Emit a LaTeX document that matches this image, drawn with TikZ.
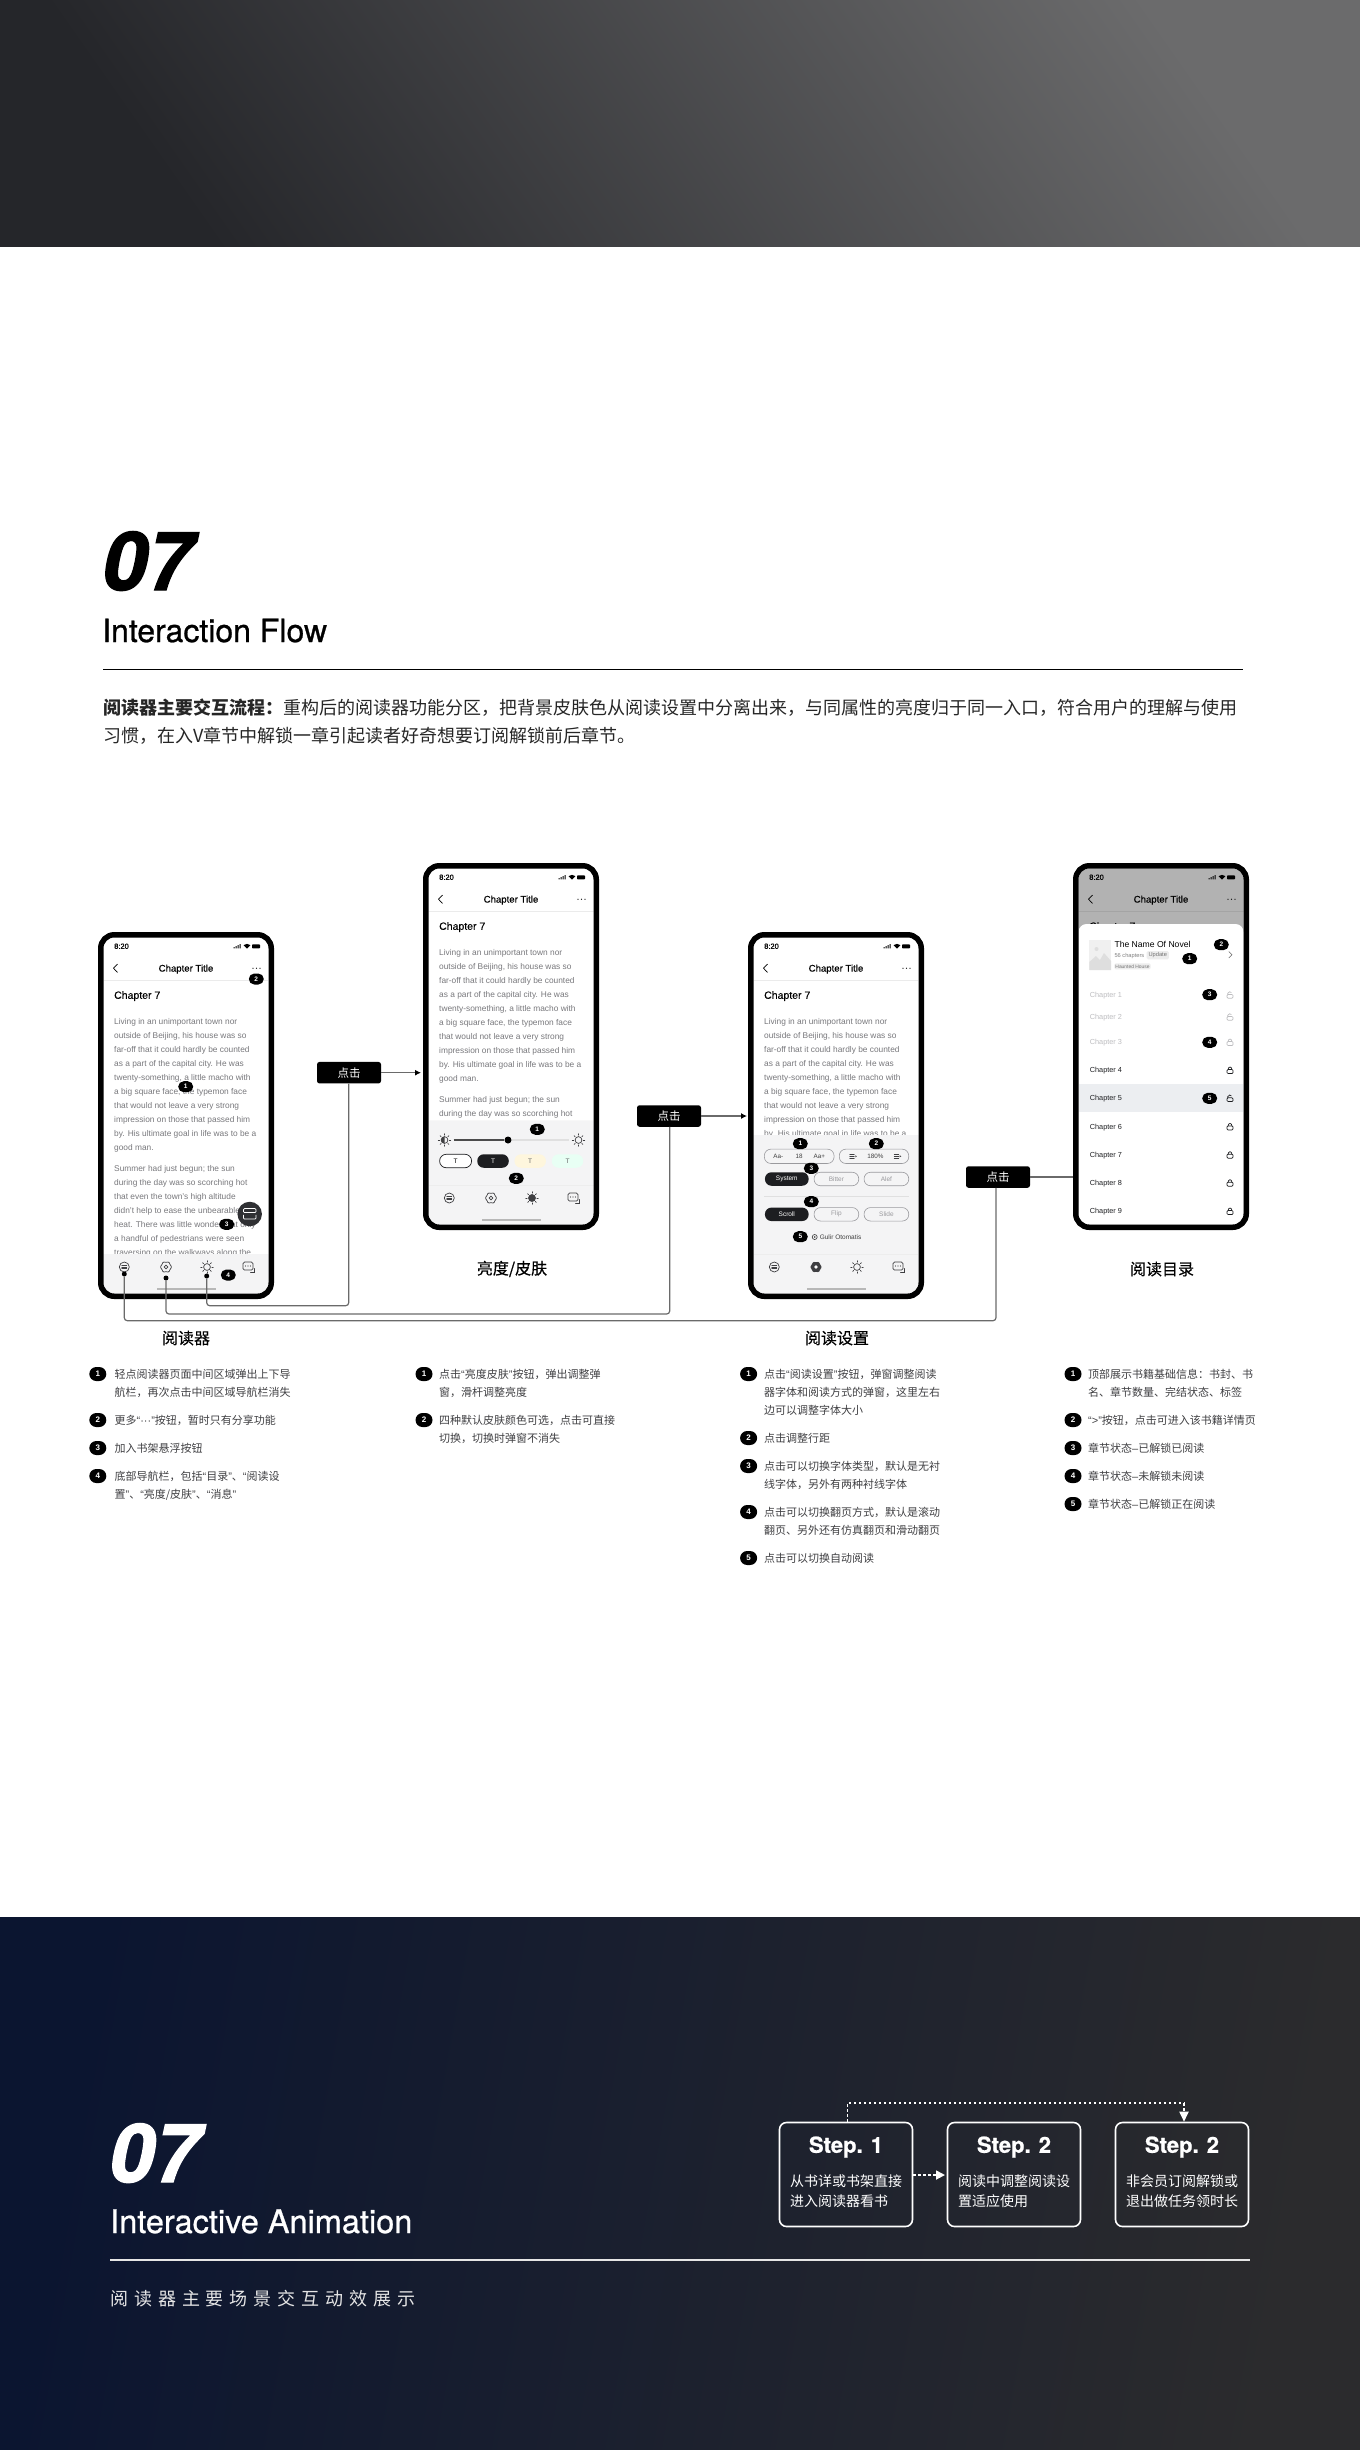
\documentclass[tikz,border=0pt]{standalone}
\usepackage{fontspec}
\setmainfont{Liberation Sans}
\newfontfamily\cjk{Noto Sans CJK SC}
\newfontfamily\cjkmed[FakeBold=.4]{Noto Sans CJK SC}
\newfontfamily\cjkwide[LetterSpace=33]{Noto Sans CJK SC}
\newfontfamily\heros{TeX Gyre Heros}
\newfontfamily\herosmed[FakeBold=.8]{TeX Gyre Heros}
\newfontfamily\herosblack[FakeBold=1.6]{TeX Gyre Heros Bold Italic}
\newfontfamily\uimed[FakeBold=.4]{Liberation Sans}
\usetikzlibrary{positioning,arrows.meta}
\newcommand{\fs}[1]{\fontsize{#1}{#1}\selectfont}
\newcommand{\qo}{{\normalfont “}}
\newcommand{\qc}{{\normalfont ”}}

\definecolor{bodygrey}{HTML}{77777B}
\definecolor{listgrey}{HTML}{3F3F42}
\definecolor{linegrey}{HTML}{6A6A6A}
\definecolor{panelgrey}{HTML}{F4F4F5}
\definecolor{pillgrey}{HTML}{9A9A9E}
\definecolor{inkdark}{HTML}{1D1E21}
\definecolor{fadegrey}{HTML}{BDBDC0}
\definecolor{rowgrey}{HTML}{ECEEF1}
\definecolor{topleft}{HTML}{25262A}
\definecolor{topmid}{HTML}{2D2E32}
\definecolor{topright}{HTML}{6B6B6C}
\definecolor{navyleft}{HTML}{0B1530}
\definecolor{navymid}{HTML}{0E1730}
\definecolor{navyright}{HTML}{2B2B2D}

\tikzset{
	phonebox/.style={draw=black,line width=5.5pt,rounded corners=13.5pt},
	badge/.style={fill=black,text=white,rounded corners=5.5pt,minimum width=15pt,minimum height=11pt,inner sep=0pt,font=\bfseries\fs{6.5}},
	listbadge/.style={fill=black,text=white,rounded corners=7pt,minimum width=17pt,minimum height=14pt,inner sep=0pt,font=\bfseries\fs{8}},
	listtext/.style={anchor=west,inner sep=0pt,text=listgrey,text height=9.7pt,text depth=1.3pt,font=\cjk\fs{11}},
	headtext/.style={inner sep=0pt,text=black,font=\cjkmed\fs{16}},
	bodyline/.style={anchor=base west,inner sep=0pt,text=bodygrey,font=\fs{8.35}},
	clickbox/.style={fill=black,text=white,rounded corners=2.5pt,minimum width=64pt,minimum height=21.5pt,inner sep=0pt,font=\cjk\fs{11.5}},
	flowline/.style={draw=linegrey,line width=1.2pt,rounded corners=3pt},
	flowtip/.style={-{Latex[length=6pt,width=6pt,fill=black,black]}},
	flowdot/.style={circle,fill=black,minimum size=5pt,inner sep=0pt},
	pillbox/.style={draw=pillgrey,line width=.6pt,rounded corners=6.5pt,minimum height=13.5pt,inner sep=0pt,text=pillgrey,font=\fs{6.5}},
	pilldark/.style={fill=inkdark,rounded corners=6.5pt,minimum height=13.5pt,inner sep=0pt,text=white,font=\fs{6.5}},
	chapline/.style={anchor=base west,inner sep=0pt,font=\fs{7.3}},
	stepbox/.style={draw=white,line width=1.6pt,rounded corners=7pt,minimum width=133pt,minimum height=104pt,inner sep=0pt},
	steptitle/.style={inner sep=0pt,text=white,font=\herosmed\bfseries\fs{22}},
	steptext/.style={inner sep=0pt,text=white,font=\cjk\fs{14}},
	stepdash/.style={draw=white,line width=1.8pt,dash pattern=on 2.5pt off 2.5pt},
	smallline/.style={line width=.7pt,line cap=round},
	listicon/.pic={
		\draw[smallline] (0,0) circle[radius=5];
		\draw[smallline] (-2.5,-1.8) -- (2.5,-1.8) (-2.5,0) -- (2.5,0) (-2.5,1.8) -- (2.5,1.8);
	},
	gearicon/.pic={
		\draw[smallline,rounded corners=1pt] (0:6)--(30:4.6)--(60:6)--(90:4.6)--(120:6)--(150:4.6)--(180:6)--(210:4.6)--(240:6)--(270:4.6)--(300:6)--(330:4.6)--cycle;
		\draw[smallline] (0,0) circle[radius=1.9];
	},
	gearfull/.pic={
		\fill[rounded corners=1pt] (0:6)--(30:4.8)--(60:6)--(90:4.8)--(120:6)--(150:4.8)--(180:6)--(210:4.8)--(240:6)--(270:4.8)--(300:6)--(330:4.8)--cycle;
		\fill[white] (0,0) circle[radius=1.9];
	},
	sunicon/.pic={
		\draw[smallline] (0,0) circle[radius=3.4];
		\foreach \a in {0,45,...,315} \draw[smallline] (\a:4.9) -- (\a:6.2);
	},
	sunfull/.pic={
		\fill (0,0) circle[radius=3.9];
		\foreach \a in {0,45,...,315} \draw[smallline] (\a:4.9) -- (\a:6.2);
	},
	msgicon/.pic={
		\draw[smallline,rounded corners=1.5pt] (-5.5,-5) rectangle (4.5,3);
		\draw[smallline] (2,5) -- (5.5,5) -- (5.5,1.5);
		\fill (-3,-1) circle[radius=.55] (-.5,-1) circle[radius=.55] (2,-1) circle[radius=.55];
	},
	lockshut/.pic={
		\draw[smallline,rounded corners=1pt] (-3,-.8) rectangle (3,3.2);
		\draw[smallline] (-1.9,-.8) arc[start angle=180,end angle=360,x radius=1.9,y radius=2.5];
	},
	lockopen/.pic={
		\draw[smallline,rounded corners=1pt] (-3,-.5) rectangle (3,3.2);
		\draw[smallline] (-2.3,-.5) -- (-2.3,-1.6) arc[start angle=180,end angle=330,x radius=1.9,y radius=1.7];
	},
	spacing/.pic={
		\draw[smallline] (-3.5,-2.2) -- (1,-2.2) (-3.5,0) -- (1,0) (-3.5,2.2) -- (1,2.2);
		\fill (2,-1) -- (3.6,0) -- (2,1) -- cycle;
	},
}

\newcommand{\bodyone}{{Living in an unimportant town nor},{outside of Beijing, his house was so},{far-off that it could hardly be counted},{as a part of the capital city. He was},{twenty-something, a little macho with},{a big square face, the typemon face},{that would not leave a very strong},{impression on those that passed him},{by. His ultimate goal in life was to be a},{good man.}}
\newcommand{\bodytwo}{{Summer had just begun; the sun},{during the day was so scorching hot},{that even the town's high altitude},{didn't help to ease the unbearable},{heat. There was little wonder that only},{a handful of pedestrians were seen},{traversing on the walkways along the}}

\newcommand{\phonehead}{
	\node[anchor=base west,inner sep=0pt,font=\uimed\fs{7.5}] (time) at (16,16.8) {8:20};
	\fill (135.5,16.4) rectangle (136.5,15.2) (137.5,16.4) rectangle (138.5,14.2) (139.5,16.4) rectangle (140.5,13) (141.5,16.4) rectangle (142.5,12);
	\fill (149,16.6) -- (145.6,13.2) arc[start angle=225,end angle=315,radius=4.8] -- cycle;
	\fill[rounded corners=.8pt] (154,12.4) rectangle (162,16.4);
	\node[anchor=base,inner sep=0pt,font=\uimed\fs{9.6}] (title) at (88,39.6) {Chapter Title};
	\draw[line width=.7pt] (19.5,32) -- (15.5,36.2) -- (19.5,40.4);
	\fill (155,36.3) circle[radius=.6] (158.5,36.3) circle[radius=.6] (162,36.3) circle[radius=.6];
	\draw[line width=.5pt,draw=black!8] (5.5,48) -- (170.5,48);
	\node[anchor=base west,inner sep=0pt,font=\uimed\fs{10.5}] (chapter) at (16,66.8) {Chapter 7};
}
\newcommand{\phonebody}[2]{
	\foreach \txt [count=\i from 0] in \bodyone {
		\ifnum\i<#1 \node[bodyline] (one\i) at (16,{92+14*\i}) {\txt}; \fi
	}
	\foreach \txt [count=\i from 0] in \bodytwo {
		\ifnum\i<#2 \node[bodyline] (two\i) at (16,{239.7+14*\i}) {\txt}; \fi
	}
}
\newcommand{\tabbar}[2]{
	\pic[color=listgrey] at (26.3,335) {listicon};
	\pic[color=listgrey] at (68,335) {#1};
	\pic[color=listgrey] at (109,335) {#2};
	\pic[color=listgrey] at (150.5,335) {msgicon};
	\draw[line width=1.5pt,draw=black!28] (59,357) -- (118,357);
}

\begin{document}
\begin{tikzpicture}[x=1pt,y=-1pt]
\useasboundingbox (0,0) rectangle (1360,2450);

\shade[shading=axis,left color=topleft,middle color=topmid,right color=topright,shading angle=125] (0,0) rectangle (1360,246);
\shade[shading=axis,left color=navyleft,middle color=navymid,right color=navyright,shading angle=80] (0,1917) rectangle (1360,2450);

\node[anchor=base west,inner sep=0pt,font=\herosblack\fs{81}] (num) at (102,590) {07};
\node[anchor=base west,inner sep=0pt,font=\herosmed\fs{32}] (heading) at (102,642) {Interaction Flow};
\coordinate (ruleL) at (103,669.5);
\coordinate (ruleR) at (1243,669.5);
\draw[line width=1.2pt,draw=black] (ruleL) -- (ruleR);
\node[anchor=west,inner sep=0pt,text=black!85,font=\cjk\fs{18}] (introa) at (103,708) {{\bfseries 阅读器主要交互流程：}重构后的阅读器功能分区，把背景皮肤色从阅读设置中分离出来，与同属性的亮度归于同一入口，符合用户的理解与使用};
\node[anchor=west,inner sep=0pt,text=black!85,font=\cjk\fs{18}] (introb) at (103,736) {习惯，在入V章节中解锁一章引起读者好奇想要订阅解锁前后章节。};

% phones
\begin{scope}[shift={(98,932)},name prefix=pa-]
	\begin{scope}
		\clip[rounded corners=11pt] (5.5,5.5) rectangle (170.5,361.5);
		\phonehead
		\phonebody{10}{7}
		\fill[panelgrey] (0,322) rectangle (176,367);
		\tabbar{gearicon}{sunicon}
	\end{scope}
	\draw[phonebox] (2.75,2.75) rectangle (173.25,364.25);
\end{scope}
\begin{scope}[shift={(423,863)},name prefix=pb-]
	\begin{scope}
		\clip[rounded corners=11pt] (5.5,5.5) rectangle (170.5,361.5);
		\phonehead
		\phonebody{10}{2}
		\fill[panelgrey,rounded corners=3pt] (0,257.3) rectangle (176,380);
		\draw[line width=.5pt,draw=black!7] (5.5,322) -- (170.5,322);
		\tabbar{gearicon}{sunfull}
	\end{scope}
	\draw[phonebox] (2.75,2.75) rectangle (173.25,364.25);
\end{scope}
\begin{scope}[shift={(748,932)},name prefix=pc-]
	\begin{scope}
		\clip[rounded corners=11pt] (5.5,5.5) rectangle (170.5,361.5);
		\phonehead
		\phonebody{9}{0}
		\fill[panelgrey] (0,203) rectangle (176,367);
		\draw[line width=.5pt,draw=black!7] (5.5,322) -- (170.5,322);
		\tabbar{gearfull}{sunicon}
	\end{scope}
	\draw[phonebox] (2.75,2.75) rectangle (173.25,364.25);
\end{scope}
\begin{scope}[shift={(1073,863)},name prefix=pd-]
	\begin{scope}
		\clip[rounded corners=11pt] (5.5,5.5) rectangle (170.5,361.5);
		\phonehead
		\fill[black,opacity=.3] (0,0) rectangle (176,367);
		\fill[white,rounded corners=8pt] (5.5,61) rectangle (170.5,400);
		\fill[rowgrey] (5.5,221.3) rectangle (170.5,249.3);
	\end{scope}
	\draw[phonebox] (2.75,2.75) rectangle (173.25,364.25);
\end{scope}

% phone one button
\node[circle,fill=inkdark!92,minimum size=24.5pt,inner sep=0pt] (addshelf) at (249.7,1214) {};
\draw[white,line width=.7pt,rounded corners=1pt] (243.5,1208.5) rectangle (256,1212.5) (243.5,1214.8) -- (243.5,1219) -- (256,1219) -- (256,1214.8);

% brightness panel
\coordinate (slideL) at (453.7,1140);
\coordinate (slideR) at (569,1140);
\node[circle,fill=black,minimum size=7pt,inner sep=0pt] (thumb) at (508,1140) {};
\draw[line width=1.2pt,draw=black!12] (thumb) -- (slideR);
\draw[line width=1.2pt,draw=black!70] (slideL) -- (thumb);
\pic[color=listgrey] at (444.5,1140) {sunicon};
\fill[listgrey] (444.5,1143.4) arc[start angle=90,end angle=270,radius=3.4] -- cycle;
\pic[color=listgrey] at (578.5,1140) {sunicon};
\node[draw=inkdark,fill=white,line width=.7pt,rounded corners=6.7pt,minimum width=32pt,minimum height=13.5pt,inner sep=0pt,font=\fs{6.5}] (skina) at (455.6,1161) {T};
\node[pilldark,minimum width=31.5pt] (skinb) at (493,1161) {T};
\node[fill=yellow!50!orange!12,rounded corners=6.7pt,minimum width=31.5pt,minimum height=13.5pt,inner sep=0pt,font=\fs{6.5},text=black!60] (skinc) at (530.2,1161) {T};
\node[fill=green!50!cyan!9,rounded corners=6.7pt,minimum width=31.5pt,minimum height=13.5pt,inner sep=0pt,font=\fs{6.5},text=black!60] (skind) at (567.5,1161) {T};

% reading settings panel
\node[pillbox,minimum width=69.7pt,minimum height=14.3pt] (sizepill) at (799.2,1156.3) {};
\node[pillbox,minimum width=69.4pt,minimum height=14.3pt] (gappill) at (874,1156.3) {};
\node[inner sep=0pt,text=black!75,font=\fs{6.3}] (sizeminus) at (778.3,1156.3) {Aa-};
\node[inner sep=0pt,text=black!75,font=\fs{6.3}] (sizeval) at (799,1156.3) {18};
\node[inner sep=0pt,text=black!75,font=\fs{6.3}] (sizeplus) at (819.3,1156.3) {Aa+};
\pic[color=listgrey] at (853.3,1156.3) {spacing};
\node[inner sep=0pt,text=black!75,font=\fs{6.3}] (gapval) at (875.3,1156.3) {180\%};
\pic[color=listgrey] at (897.7,1156.3) {spacing};
\foreach \py/\pa/\pb/\pc [count=\i] in {1179/System/Bitter/Alef,1214.3/Scroll/Flip/Slide} {
	\node[pilldark,minimum width=43.7pt] (fa\i) at (786.8,\py) {\pa};
	\node[pillbox,minimum width=44.7pt] (fb\i) at (836.4,\py) {\pb};
	\node[pillbox,minimum width=44.7pt] (fc\i) at (886.4,\py) {\pc};
}
\coordinate (sepL) at (764.3,1196.3);
\coordinate (sepR) at (908.7,1196.3);
\draw[line width=.5pt,draw=black!12] (sepL) -- (sepR);
\draw[line width=.6pt,draw=black!80] (814.7,1237) circle[radius=2.5];
\fill[black!80] (814.7,1237) circle[radius=.9];
\node[anchor=west,inner sep=0pt,text=black!75,font=\fs{6.5}] (autoread) at (819.6,1237) {Gulir Otomatis};

% catalogue sheet
\fill[black!6] (1089.3,940) rectangle (1111,970);
\fill[black!13] (1089.3,970) -- (1089.3,962) -- (1096,956) -- (1100,960) -- (1104,953) -- (1111,961) -- (1111,970) -- cycle;
\fill[black!13] (1096.5,949) circle[radius=2];
\node[anchor=base west,inner sep=0pt,font=\fs{8.6}] (novel) at (1114.3,947.7) {The Name Of Novel};
\node[anchor=base west,inner sep=0pt,text=black!50,font=\fs{5.7}] (chapcount) at (1114.3,957.3) {56 chapters};
\node[fill=black!7,rounded corners=1.5pt,text=black!55,inner sep=0pt,minimum width=22.3pt,minimum height=8.3pt,font=\fs{5.7}] (update) at (1157.8,955.2) {Update};
\node[fill=black!7,rounded corners=1.5pt,text=black!55,inner sep=0pt,minimum width=36.4pt,minimum height=6pt,font=\fs{4.9}] (tagbox) at (1132.5,966.3) {Haunted House};
\draw[line width=.6pt,draw=black!60] (1228.8,951.5) -- (1232,954.7) -- (1228.8,958);
\foreach \cy/\cn/\cc/\cl [count=\i] in {995/1/fadegrey/lockopen,1017/2/fadegrey/lockopen,1042.3/3/fadegrey/lockshut,1070.3/4/inkdark/lockshut,1098.3/5/inkdark/lockopen,1126.7/6/inkdark/lockshut,1155/7/inkdark/lockshut,1183/8/inkdark/lockshut,1211.3/9/inkdark/lockshut} {
	\node[chapline,text=\cc] (chap\i) at (1089.7,\cy+2.6) {Chapter \cn};
	\pic[color=\cc] at (1230,\cy) {\cl};
}

% badges on the phones
\foreach \bx/\by/\bn [count=\i] in {185.7/1086.7/1,256.3/979/2,226.7/1224.3/3,228.3/1275/4,537.3/1129.3/1,516.3/1178.3/2,800.3/1143.7/1,876.3/1143.7/2,811.3/1168.3/3,811.3/1201.7/4,800.3/1236.7/5,1189.7/958.7/1,1221.3/944.7/2,1209.7/994.7/3,1209.7/1042.3/4,1209.7/1098.3/5} {
	\node[badge] (mark\i) at (\bx,\by) {\bn};
}

% flow
\node[clickbox] (clicka) at (349,1072.7) {点击};
\node[clickbox] (clickb) at (669,1116) {点击};
\node[clickbox] (clickc) at (998,1177) {点击};
\node[flowdot] (dota) at (206.7,1276) {};
\node[flowdot] (dotb) at (166,1278) {};
\node[flowdot] (dotc) at (124.3,1274) {};
\coordinate (turna) at (348.7,1305.7);
\coordinate (turnb) at (669.7,1314);
\coordinate (turnc) at (996,1320.7);
\draw[flowline] (dota) |- (turna) -- (turna |- clicka.south);
\draw[flowline] (dotb) |- (turnb) -- (turnb |- clickb.south);
\draw[flowline] (dotc) |- (turnc) -- (turnc |- clickc.south);
\coordinate (phoneb) at (421,1072.7);
\coordinate (phonec) at (747,1116);
\coordinate (phoned) at (1073,1177);
\draw[flowline,flowtip] (clicka.east) -- (phoneb);
\draw[flowline,flowtip] (clickb.east) -- (phonec);
\draw[flowline] (clickc.east) -- (phoned);

\node[headtext] (namea) at (186,1338) {阅读器};
\node[headtext] (nameb) at (512,1269) {亮度/皮肤};
\node[headtext] (namec) at (837,1338) {阅读设置};
\node[headtext] (named) at (1162,1269) {阅读目录};

% notes
\foreach \ny/\nn [count=\i] in {1374/1,1420/2,1448/3,1476/4} \node[listbadge] (ba\i) at (97.8,\ny) {\nn};
\foreach \ny/\txt [count=\i] in {1374/轻点阅读器页面中间区域弹出上下导,1392/航栏，再次点击中间区域导航栏消失,1420/更多\qo{\normalfont ···}\qc 按钮，暂时只有分享功能,1448/加入书架悬浮按钮,1476/底部导航栏，包括\qo 目录\qc 、\qo 阅读设,1494/{置\qc 、\qo 亮度/皮肤\qc 、\qo 消息\qc}} \node[listtext] (ta\i) at (114.4,\ny) {\txt};
\foreach \ny/\nn [count=\i] in {1374/1,1420/2} \node[listbadge] (bb\i) at (424,\ny) {\nn};
\foreach \ny/\txt [count=\i] in {1374/点击\qo 亮度皮肤\qc 按钮，弹出调整弹,1392/窗，滑杆调整亮度,1420/四种默认皮肤颜色可选，点击可直接,1438/切换，切换时弹窗不消失} \node[listtext] (tb\i) at (439,\ny) {\txt};
\foreach \ny/\nn [count=\i] in {1374/1,1438/2,1466/3,1512/4,1558/5} \node[listbadge] (bc\i) at (748.6,\ny) {\nn};
\foreach \ny/\txt [count=\i] in {1374/点击\qo 阅读设置\qc 按钮，弹窗调整阅读,1392/器字体和阅读方式的弹窗，这里左右,1410/边可以调整字体大小,1438/点击调整行距,1466/点击可以切换字体类型，默认是无衬,1484/线字体，另外有两种衬线字体,1512/点击可以切换翻页方式，默认是滚动,1530/翻页、另外还有仿真翻页和滑动翻页,1558/点击可以切换自动阅读} \node[listtext] (tc\i) at (764,\ny) {\txt};
\foreach \ny/\nn [count=\i] in {1374/1,1420/2,1448/3,1476/4,1504/5} \node[listbadge] (bd\i) at (1073,\ny) {\nn};
\foreach \ny/\txt [count=\i] in {1374/顶部展示书籍基础信息：书封、书,1392/名、章节数量、完结状态、标签,1420/\qo{\normalfont >}\qc 按钮，点击可进入该书籍详情页,1448/章节状态{\normalfont –}已解锁已阅读,1476/章节状态{\normalfont –}未解锁未阅读,1504/章节状态{\normalfont –}已解锁正在阅读} \node[listtext] (td\i) at (1088,\ny) {\txt};

% bottom band
\node[anchor=base west,inner sep=0pt,text=white,font=\herosblack\fs{81}] (numb) at (109,2182) {07};
\node[anchor=base west,inner sep=0pt,text=white,font=\herosmed\fs{32.5}] (headingb) at (110,2233) {Interactive Animation};
\coordinate (rulebL) at (110,2260);
\coordinate (rulebR) at (1250,2260);
\draw[line width=1.2pt,draw=white!90!black] (rulebL) -- (rulebR);
\node[anchor=west,inner sep=0pt,text=white!90!black,font=\cjkwide\fs{18}] (subline) at (110,2299) {阅读器主要场景交互动效展示};

\node[stepbox] (stepa) at (846,2174.5) {};
\node[stepbox] (stepb) at (1014,2174.5) {};
\node[stepbox] (stepc) at (1182,2174.5) {};
\node[steptitle] (titlea) at (846,2147) {Step. 1};
\node[steptitle] (titleb) at (1014,2147) {Step. 2};
\node[steptitle] (titlec) at (1182,2147) {Step. 2};
\node[steptext,anchor=west] (texta) at (790,2180.7) {从书详或书架直接};
\node[steptext,anchor=west] (textb) at (790,2201) {进入阅读器看书};
\node[steptext,anchor=west] (textc) at (958,2180.7) {阅读中调整阅读设};
\node[steptext,anchor=west] (textd) at (958,2201) {置适应使用};
\node[steptext,anchor=west] (texte) at (1126,2180.7) {非会员订阅解锁或};
\node[steptext,anchor=west] (textf) at (1126,2201) {退出做任务领时长};
\coordinate (jumpa) at (847.5,2103);
\coordinate (jumpb) at (1184,2103);
\coordinate (nexta) at (945,2175);
\draw[stepdash] (stepa.north -| jumpa) -- (jumpa) -- (jumpb);
\draw[stepdash,-{Triangle[length=10pt,width=9pt,fill=white]}] (jumpb) -- (jumpb |- stepc.north);
\draw[stepdash,-{Triangle[length=9pt,width=9pt,fill=white]}] (stepa.east |- nexta) -- (nexta);
\end{tikzpicture}
\end{document}
